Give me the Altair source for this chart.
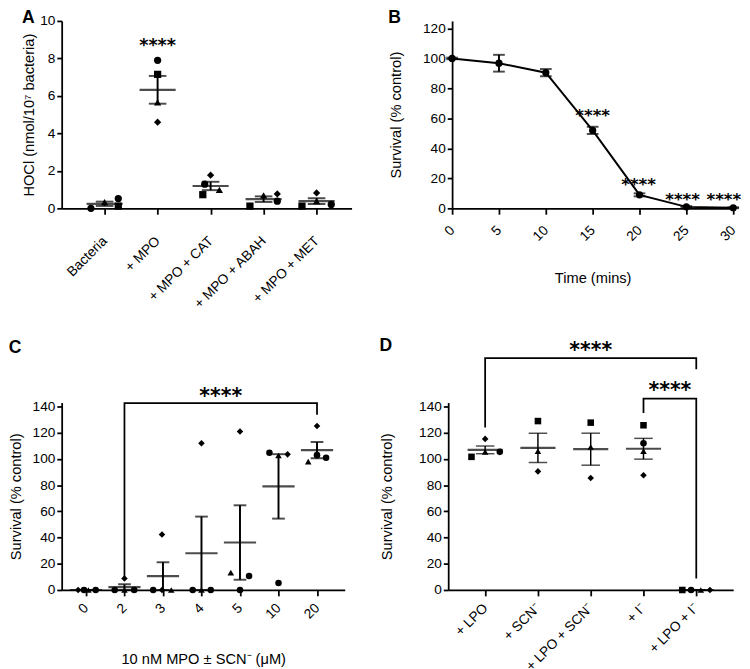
import json
import altair as alt
import pandas as pd

FONT = "Liberation Sans"
STAR_FONT = "DejaVu Sans"

# ---------------- Panel A ----------------
A_LABELS = ["Bacteria", "+ MPO", "+ MPO + CAT", "+ MPO + ABAH", "+ MPO + MET"]
A_GROUP = [0, 0, 0, 0, 1, 1, 1, 1, 2, 2, 2, 2, 3, 3, 3, 3, 4, 4, 4, 4]
A_VALUE = [0.0, 0.33, 0.52, 0.12,
           7.9, 7.15, 5.65, 4.6,
           1.29, 0.73, 0.99, 1.77,
           0.12, 0.69, 0.77, 0.38,
           0.12, 0.82, 0.38, 0.21]
A_SHAPE = ["circle", "triangle", "circle", "square",
           "circle", "square", "triangle", "diamond",
           "circle", "square", "triangle", "diamond",
           "square", "triangle", "diamond", "circle",
           "square", "diamond", "triangle", "circle"]
A_SPREAD = [-14, 0, 14, 14, 0, 0, 0, 0, -6, -8, 9, 0, -14, 0, 14, 14, -15, 0, 0, 15]
A_STAR_X = [1]
A_STAR_Y = [8.9]

# ---------------- Panel B ----------------
B_TIME = [0, 5, 10, 15, 20, 25, 30]
B_MEAN = [100, 96.8, 90.5, 52, 9, 1, 0.4]
B_SEM = [0.5, 5.6, 2.4, 2.4, 1.0, 0.5, 0.3]
B_STAR_X = [15, 19.9, 24.6, 29.0]
B_STAR_Y = [65, 19, 9, 9]

# ---------------- Panel C ----------------
C_LABELS = ["0", "2", "3", "4", "5", "10", "20"]
C_GROUP = [0] * 4 + [1] * 4 + [2] * 4 + [3] * 4 + [4] * 4 + [5] * 4 + [6] * 4
C_VALUE = [0, 0, 0, 0,
           0, 8.7, 0, 0,
           0, 0, 0, 42.3,
           0, 0, 0, 112,
           121, 13.2, 10.7, 0,
           104.8, 102.6, 103.5, 5.3,
           125.2, 97.9, 102.9, 100.9]
C_SHAPE = ["diamond", "circle", "triangle", "circle",
           "circle", "diamond", "triangle", "circle",
           "circle", "diamond", "triangle", "diamond",
           "circle", "triangle", "circle", "diamond",
           "diamond", "triangle", "circle", "circle",
           "circle", "triangle", "diamond", "circle",
           "diamond", "triangle", "circle", "circle"]
C_SPREAD = [-8, -2, 2.5, 10,
            -10, 0, 0, 10,
            -10, -1, 8.5, -1,
            -9, 0, 9.5, 0,
            0, -9.4, 9.3, 0,
            -9.3, 0, 9.3, 0,
            0, -9, 0, 9.3]
C_BRACKET_X = [1, 1, 6, 6]
C_BRACKET_Y = [10, 142.5, 142.5, 133.8]
C_STAR_X = [3.5]
C_STAR_Y = [152]

# ---------------- Panel D ----------------
D_LABELS = ["+ LPO", "+ SCN\u207b", "+ LPO + SCN\u207b", "+ I\u207b", "+ LPO + I\u207b"]
D_GROUP = [0, 0, 0, 0, 1, 1, 1, 2, 2, 2, 3, 3, 3, 3, 4, 4, 4, 4]
D_VALUE = [101.6, 105.4, 115.3, 105.4,
           128.9, 105.9, 90.5,
           127.7, 109.1, 85.5,
           125.7, 112, 105.9, 87.5,
           0, 0, 0, 0]
D_SHAPE = ["square", "triangle", "diamond", "circle",
           "square", "triangle", "diamond",
           "square", "triangle", "diamond",
           "square", "circle", "triangle", "diamond",
           "square", "circle", "triangle", "diamond"]
D_SPREAD = [-14, 0, 0, 15, 0, 0, 0, 0, 0, 0, 0, 0, 0, 0, -14.3, -5.3, 4.7, 14]
D_BRACKET1_X = [0, 0, 4, 4]
D_BRACKET1_Y = [124, 177, 177, 168.5]
D_BRACKET2_X = [3, 3, 4, 4]
D_BRACKET2_Y = [135, 146, 146, 8.7]
D_STAR_X = [2, 3.5]
D_STAR_Y = [187, 156]

SHAPE_DOMAIN = ["circle", "square", "triangle", "diamond"]
SHAPE_RANGE = ["circle", "square", "triangle-up", "diamond"]


def letter_title(letter, offset):
    return alt.TitleParams(letter, anchor="start", frame="bounds", fontSize=18,
                           fontWeight="bold", font=FONT, color="black", offset=offset)


def dot_panel(groups, values, shapes, spread, labels, xdom, width, height,
              ydom, yvals, ytitle, ytpad, xtitle, xtpad, letter, toff, msize, mean_len,
              cap_len, bar_w, star_x, star_y, star_fs, brackets, lpad):
    step = width / (xdom[1] - xdom[0])
    df = pd.DataFrame({"idx": groups, "value": values, "shape": shapes,
                       "pos": [g + s / step for g, s in zip(groups, spread)]})
    xs = alt.Scale(domain=xdom, nice=False, zero=False)
    ys = alt.Scale(domain=ydom, nice=False)
    lab = json.dumps(labels)
    xax = alt.Axis(values=list(range(len(labels))), labelExpr=f"{lab}[datum.value]",
                   labelAngle=-45, labelAlign="right", labelBaseline="middle",
                   labelPadding=lpad, title=xtitle, titlePadding=xtpad, labelOverlap=False,
                   labelBound=False, labelFlush=False, tickSize=6)
    yax = alt.Axis(values=yvals, title=ytitle, tickSize=5, titlePadding=ytpad)

    def X(f):
        return alt.X(f, type="quantitative", scale=xs, axis=xax)

    def Y(f):
        return alt.Y(f, type="quantitative", scale=ys, axis=yax)

    base = alt.Chart(df)
    stats = base.transform_aggregate(
        m="mean(value)", se="stderr(value)", groupby=["idx"]
    ).transform_calculate(lo="datum.m - datum.se", hi="datum.m + datum.se")

    pts = base.mark_point(filled=True, opacity=1, color="black", size=msize).encode(
        x=X("pos"), y=Y("value"),
        shape=alt.Shape("shape:N", scale=alt.Scale(domain=SHAPE_DOMAIN, range=SHAPE_RANGE), legend=None))
    mean = stats.mark_tick(orient="horizontal", size=mean_len, thickness=2.2, color="black").encode(
        x=X("idx"), y=Y("m"))
    bars = stats.mark_rule(color="black", strokeWidth=bar_w).encode(
        x=X("idx"), y=Y("lo"), y2="hi:Q")
    caps = stats.transform_fold(["lo", "hi"], as_=["end", "yv"]).mark_tick(
        orient="horizontal", size=cap_len, thickness=bar_w, color="black").encode(
        x=X("idx"), y=Y("yv"))
    stars = alt.Chart(pd.DataFrame({"x": star_x, "y": star_y, "t": ["****"] * len(star_x)})).mark_text(
        font=STAR_FONT, fontWeight="bold", fontSize=star_fs, baseline="alphabetic",
        dy=round(0.56 * star_fs), color="black").encode(x=X("x"), y=Y("y"), text="t:N")
    layers = [bars, caps, mean, pts, stars]
    for bx, by in brackets:
        bdf = pd.DataFrame({"x": bx, "y": by, "o": list(range(len(bx)))})
        layers.insert(0, alt.Chart(bdf).mark_line(color="black", strokeWidth=1.8).encode(
            x=X("x"), y=Y("y"), order="o:Q"))
    return alt.layer(*layers).properties(width=width, height=height,
                                         title=letter_title(letter, toff))


A = dot_panel(A_GROUP, A_VALUE, A_SHAPE, A_SPREAD, A_LABELS, [-0.81, 4.66], 297, 192,
              [0, 10], [0, 2, 4, 6, 8, 10], "HOCl (nmol/10\u2077 bacteria)", 3, None, 0,
              "A", -13, 55, 37, 18, 2, A_STAR_X, A_STAR_Y, 18, [], 25)

C = dot_panel(C_GROUP, C_VALUE, C_SHAPE, C_SPREAD, C_LABELS, [-0.63, 6.72], 290, 192,
              [0, 143], list(range(0, 141, 20)), "Survival (% control)", 9,
              "10 nM MPO \u00b1 SCN\u207b (\u03bcM)", 31, "C", 30,
              45, 33, 13, 2, C_STAR_X, C_STAR_Y, 21, [(C_BRACKET_X, C_BRACKET_Y)], 10)

D = dot_panel(D_GROUP, D_VALUE, D_SHAPE, D_SPREAD, D_LABELS, [-0.70, 4.70], 292, 192,
              [0, 143], list(range(0, 141, 20)), "Survival (% control)", 25, None, 0, "D", -15,
              45, 36, 19, 1.5, D_STAR_X, D_STAR_Y, 21,
              [(D_BRACKET1_X, D_BRACKET1_Y), (D_BRACKET2_X, D_BRACKET2_Y)], 10)

# ---------------- Panel B chart ----------------
bdf = pd.DataFrame({"t": B_TIME, "m": B_MEAN, "se": B_SEM})
bxs = alt.Scale(domain=[0, 30], nice=False, zero=False)
bys = alt.Scale(domain=[0, 125], nice=False)
bxax = alt.Axis(values=B_TIME, labelAngle=-45, labelAlign="right", labelBaseline="middle",
                labelPadding=14, title="Time (mins)", tickSize=6, labelFlush=False,
                labelOverlap=False, titlePadding=28)
byax = alt.Axis(values=list(range(0, 121, 20)), title="Survival (% control)", tickSize=5,
                titlePadding=20)


def BX(f):
    return alt.X(f, type="quantitative", scale=bxs, axis=bxax)


def BY(f):
    return alt.Y(f, type="quantitative", scale=bys, axis=byax)


bbase = alt.Chart(bdf).transform_calculate(lo="datum.m - datum.se", hi="datum.m + datum.se")
bline = bbase.mark_line(color="black", strokeWidth=2).encode(x=BX("t"), y=BY("m"))
bpts = bbase.mark_point(filled=True, opacity=1, color="black", size=55, shape="circle").encode(
    x=BX("t"), y=BY("m"))
bbars = bbase.mark_rule(color="black", strokeWidth=2).encode(x=BX("t"), y=BY("lo"), y2="hi:Q")
bcaps = bbase.transform_fold(["lo", "hi"], as_=["end", "yv"]).mark_tick(
    orient="horizontal", size=12, thickness=2, color="black").encode(x=BX("t"), y=BY("yv"))
bstars = alt.Chart(pd.DataFrame({"x": B_STAR_X, "y": B_STAR_Y, "s": ["****"] * 4})).mark_text(
    font=STAR_FONT, fontWeight="bold", fontSize=17, baseline="alphabetic", dy=10,
    color="black").encode(x=BX("x"), y=BY("y"), text="s:N")
B = alt.layer(bline, bbars, bcaps, bpts, bstars).properties(
    width=288, height=192, title=letter_title("B", -6))

row1 = alt.hconcat(A, B, spacing=37)
row2 = alt.hconcat(C, D, spacing=35)
chart = alt.concat(row1, row2, columns=1, spacing=25, align="none").properties(
    padding={"left": 0, "top": -7, "right": 0, "bottom": 0}
).configure_view(stroke=None).configure_axis(
    labelFont=FONT, titleFont=FONT, labelFontSize=14, titleFontSize=15,
    titleFontWeight="normal", labelColor="black", titleColor="black",
    domainColor="black", tickColor="black", domainWidth=1.8, tickWidth=1.8,
    grid=False
)

chart.save("out.html", embed_options={"renderer": "svg", "actions": False})
